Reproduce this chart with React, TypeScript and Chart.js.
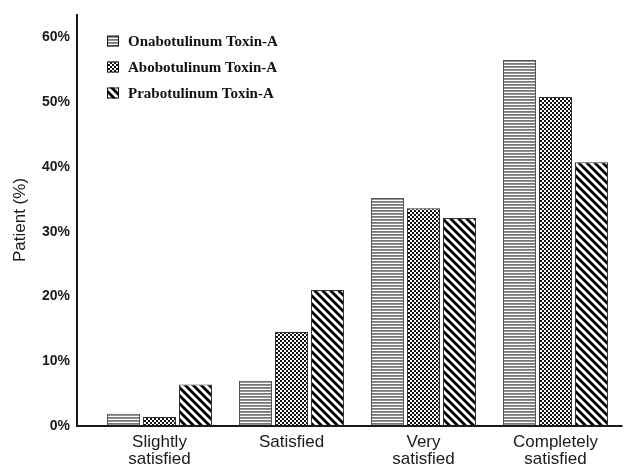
import React, { useEffect, useRef } from "react";
import { Chart, registerables } from "chart.js";

Chart.register(...registerables);

const categories: string[][] = [
  ["Slightly", "satisfied"],
  ["Satisfied"],
  ["Very", "satisfied"],
  ["Completely", "satisfied"],
];
const seriesNames = ["Onabotulinum Toxin-A", "Abobotulinum Toxin-A", "Prabotulinum Toxin-A"];
const onaValues = [1.9, 7.0, 35.2, 56.5];
const aboValues = [1.4, 14.5, 33.6, 50.8];
const praValues = [6.4, 21.0, 32.1, 40.7];
const yTickValues = [0, 10, 20, 30, 40, 50, 60];
const yMax = 63.6;
const yTitle = "Patient (%)";

function makePattern(kind: string): CanvasPattern | string {
  const c = document.createElement("canvas");
  const x = c.getContext("2d");
  if (!x) return "#888";
  if (kind === "h") {
    c.width = 4;
    c.height = 3;
    x.fillStyle = "#ffffff";
    x.fillRect(0, 0, 4, 3);
    x.fillStyle = "#777777";
    x.fillRect(0, 0, 4, 1);
    x.fillStyle = "#939393";
    x.fillRect(0, 1, 4, 1);
  } else if (kind === "c") {
    c.width = 4;
    c.height = 4;
    x.fillStyle = "#ffffff";
    x.fillRect(0, 0, 4, 4);
    x.fillStyle = "#111111";
    x.fillRect(0, 0, 2, 2);
    x.fillRect(2, 2, 2, 2);
  } else {
    const p = 8;
    c.width = p;
    c.height = p;
    x.fillStyle = "#ffffff";
    x.fillRect(0, 0, p, p);
    x.strokeStyle = "#000000";
    x.lineWidth = 2.8;
    x.beginPath();
    x.moveTo(-1, -1);
    x.lineTo(p + 1, p + 1);
    x.moveTo(-p - 1, -1);
    x.lineTo(1, p + 1);
    x.moveTo(p - 1, -1);
    x.lineTo(2 * p + 1, p + 1);
    x.stroke();
  }
  return x.createPattern(c, "repeat") || "#888";
}

export default function App() {
  const ref = useRef<HTMLCanvasElement | null>(null);

  useEffect(() => {
    const canvas = ref.current;
    if (!canvas) return;
    const pats = [makePattern("h"), makePattern("c"), makePattern("d")];
    const borders = ["#555555", "#333333", "#333333"];
    const values = [onaValues, aboValues, praValues];

    const decor = {
      id: "decor",
      afterDatasetsDraw(chart: any) {
        const { ctx, chartArea } = chart;
        const y0 = chart.scales.y.getPixelForValue(0);
        const axisX = chartArea.left - 16.5;
        ctx.save();
        ctx.strokeStyle = "#1a1a1a";
        ctx.lineWidth = 2;
        ctx.beginPath();
        ctx.moveTo(axisX, chartArea.top);
        ctx.lineTo(axisX, y0);
        ctx.lineTo(chartArea.right + 1, y0);
        ctx.stroke();

        // legend
        const lx = chartArea.left + 13.5;
        const rows = [41, 67, 93];
        chart.data.datasets.forEach((ds: any, i: number) => {
          const cy = rows[i];
          ctx.fillStyle = ds.backgroundColor;
          ctx.fillRect(lx, cy - 5.5, 12, 11);
          ctx.strokeStyle = "#111";
          ctx.lineWidth = 1;
          ctx.strokeRect(lx + 0.5, cy - 5, 11, 10);
          ctx.fillStyle = "#111";
          ctx.font = "bold 15px 'Liberation Serif', 'Times New Roman', serif";
          ctx.textBaseline = "middle";
          ctx.textAlign = "left";
          ctx.fillText(ds.label, lx + 21, cy + 1);
        });
        ctx.restore();
      },
    };

    const chart = new Chart(canvas, {
      type: "bar",
      data: {
        labels: categories,
        datasets: seriesNames.map((name, i) => ({
          label: name,
          data: values[i],
          backgroundColor: pats[i] as any,
          borderColor: borders[i],
          borderWidth: 1,
          borderSkipped: false,
          categoryPercentage: 0.818,
          barPercentage: 0.917,
        })),
      },
      options: {
        responsive: false,
        animation: false,
        events: [],
        layout: { padding: { top: 14, right: 3.5, left: 0, bottom: 0 } },
        plugins: {
          legend: { display: false },
          tooltip: { enabled: false },
        },
        scales: {
          x: {
            grid: { display: false, drawTicks: false },
            border: { display: false },
            ticks: {
              color: "#1a1a1a",
              font: { family: "'Liberation Sans', Arial, sans-serif", size: 17, lineHeight: 1.0 },
              padding: 8,
              maxRotation: 0,
              autoSkip: false,
            },
            afterFit: (s: any) => {
              s.height = 42;
            },
          },
          y: {
            min: 0,
            max: yMax,
            grid: { display: false, drawTicks: false },
            border: { display: false },
            afterBuildTicks: (s: any) => {
              s.ticks = yTickValues.map((v) => ({ value: v }));
            },
            ticks: {
              color: "#1a1a1a",
              font: { family: "'Liberation Sans', Arial, sans-serif", size: 14, weight: "bold" },
              padding: 23.5,
              callback: (v: any) => `${v}%`,
            },
            title: {
              display: true,
              text: yTitle,
              color: "#1a1a1a",
              font: { family: "'Liberation Sans', Arial, sans-serif", size: 17 },
              padding: { top: 10, bottom: 0 },
            },
            afterFit: (s: any) => {
              s.width = 93.5;
              s.paddingTop = 0;
              s.paddingBottom = 0;
            },
          },
        },
      },
      plugins: [decor],
    });
    return () => chart.destroy();
  }, []);

  return (
    <div style={{ position: "fixed", left: 0, top: 0, width: 625, height: 468, background: "#fff" }}>
      <canvas ref={ref} width={625} height={468} style={{ display: "block" }} />
    </div>
  );
}
